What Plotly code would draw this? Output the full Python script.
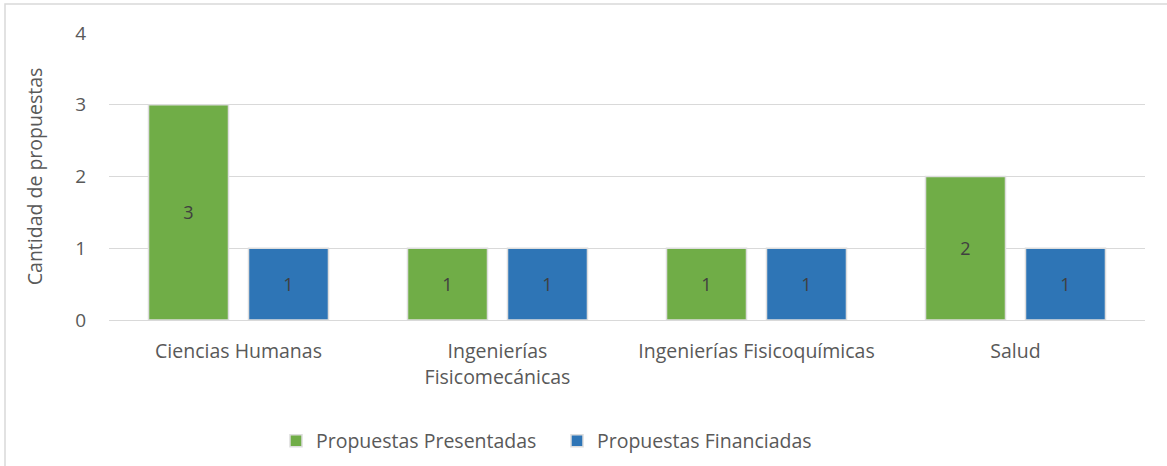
import plotly.graph_objects as go

categories = ["Ciencias Humanas", "Ingenierías<br>Fisicomecánicas", "Ingenierías Fisicoquímicas", "Salud"]
presentadas = [3, 1, 1, 2]
financiadas = [1, 1, 1, 1]
series_names = ["Propuestas Presentadas", "Propuestas Financiadas"]
y_ticks = [0, 1, 2, 3, 4]

FONT = "Open Sans"
fig = go.Figure()
fig.add_trace(go.Bar(
    x=categories, y=presentadas, name=series_names[0],
    marker=dict(color="#70AD47", line=dict(color="#DDDDDD", width=1.5)),
    text=[str(v) for v in presentadas],
    textposition="inside", insidetextanchor="middle",
    textfont=dict(color="#404040", size=18, family=FONT),
))
fig.add_trace(go.Bar(
    x=categories, y=financiadas, name=series_names[1],
    marker=dict(color="#2E75B6", line=dict(color="#DDDDDD", width=1.5)),
    text=[str(v) for v in financiadas],
    textposition="inside", insidetextanchor="middle",
    textfont=dict(color="#404040", size=18, family=FONT),
))

L, R, T, B = 109, 22, 33, 146
W, H = 1167 - L - R, 466 - T - B

def px(x):
    return (x - L) / W

def py(y):
    return (466 - B - y) / H

fig.update_layout(
    width=1167, height=466,
    margin=dict(l=L, r=R, t=T, b=B, autoexpand=False),
    paper_bgcolor="white", plot_bgcolor="white",
    barmode="group", bargap=0.228, bargroupgap=0.2,
    font=dict(family=FONT, color="#595959", size=19.5),
    showlegend=True,
    legend=dict(orientation="h", x=px(276), xanchor="left", y=py(441), yanchor="middle",
                font=dict(size=19.5, color="#595959", family=FONT),
                entrywidth=236, entrywidthmode="pixels", itemwidth=30, traceorder="normal"),
    xaxis=dict(showgrid=False, showline=True, linecolor="#D9D9D9", linewidth=1,
               tickfont=dict(size=19.5, color="#595959"), ticks="", ticklabelstandoff=14,
               range=[-0.5, 3.5]),
    yaxis=dict(range=[0, 4], tickvals=y_ticks, showgrid=True, gridcolor="#D9D9D9", gridwidth=1,
               zeroline=False, showline=False, ticks="", ticklabelstandoff=22,
               tickfont=dict(size=19, color="#595959"),
               title=dict(text="Cantidad de propuestas", font=dict(size=19.5, color="#595959"), standoff=27)),
    shapes=[dict(type="rect", xref="paper", yref="paper",
                 x0=px(5), x1=px(1175), y0=py(480), y1=py(4),
                 line=dict(color="#D9D9D9", width=1.5), fillcolor="rgba(0,0,0,0)", layer="below")],
)

fig.write_html("out.html", config={"displayModeBar": False},
               post_script="document.body.style.margin='0';")
